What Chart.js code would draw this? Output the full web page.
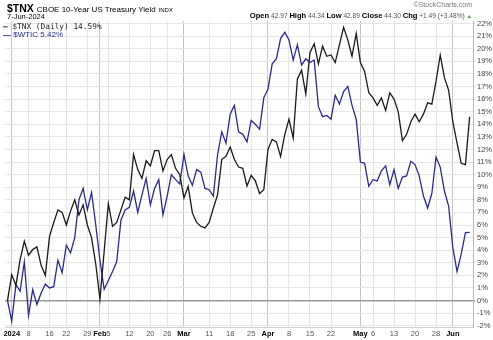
<!DOCTYPE html>
<html>
<head>
<meta charset="utf-8">
<script src="https://cdn.jsdelivr.net/npm/chart.js@4.4.1/dist/chart.umd.min.js"></script>
<style>
    body { margin: 0; background: #fff; }
    #wrap { position: relative; width: 493px; height: 340px; font-family: "Liberation Sans", Arial, sans-serif; }
    #wrap canvas { position: absolute; left: 0; top: 0; }
    .txt { position: absolute; white-space: nowrap; line-height: 1; }
    .lbl { color: #000; font-weight: bold; font-size: 7.6px; }
</style>
</head>
<body>

<div id="wrap">
    <canvas id="perfChart" width="493" height="340"></canvas>

    <div class="txt" style="left:7px;top:3px;font-size:10.5px;">
        <b>$TNX</b> <span style="font-size:8px;">CBOE 10-Year US Treasury Yield</span> <span style="font-size:6px;">INDX</span>
    </div>
    <div class="txt" style="left:7px;top:13px;font-size:7.5px;">7-Jun-2024</div>

    <div class="txt" style="right:21px;top:1px;font-size:7px;color:#777;">&copy;StockCharts.com</div>
    <div class="txt" style="right:21px;top:12px;font-size:6.6px;color:#555;">
        <span class="lbl">Open</span> 42.97 <span class="lbl">High</span> 44.34 <span class="lbl">Low</span> 42.89
        <span class="lbl">Close</span> 44.30 <span class="lbl">Chg</span> +1.49 (+3.48%) <span style="color:#3a3;font-size:5.5px;">&#9650;</span>
    </div>

    <div class="txt" style="left:3px;top:23px;font-family:'DejaVu Sans Mono',monospace;font-size:7.8px;color:#222;">
        <b>&mdash;</b> $TNX (Daily) 14.59%
    </div>
    <div class="txt" style="left:3px;top:31px;font-size:8px;color:#2a2a8c;">
        <b>&mdash;</b> $WTIC 5.42%
    </div>
</div>

<script>
// ===============================
// DATA  (% change since 29-Dec-2023, one value per trading day)
// ===============================

const tnxPct = [
    0, 2.06, 1.2, 3.25, 4.7, 3.6, 4.05, 4.26, 2.8, 2.0,
    5.1, 6.2, 7.2, 7.0, 6.0, 7.1, 8.0, 6.8, 7.6, 6.0,
    5.0, 2.9, 0.1, 3.9, 7.7, 5.9, 6.2, 7.2, 8.2, 8.0,
    11.6, 10.4, 9.7, 11.1, 10.7, 11.9, 11.9, 10.3, 11.2, 11.6,
    10.5, 10.0, 8.15, 9.07, 6.96, 6.2, 5.9, 5.77, 6.2, 7.35,
    8.4, 11.2, 11.45, 12.2, 11.2, 10.6, 10.5, 9.1, 9.95, 9.5,
    8.5, 8.8, 12.0, 12.8, 12.6, 11.45, 13.2, 14.4, 12.9, 17.6,
    18.3, 16.4, 19.7, 20.4, 18.8, 20.2, 19.4, 19.5, 18.9, 20.3,
    21.7, 20.7, 19.4, 21.2, 18.9, 18.2, 16.5, 16.1, 15.5, 16.1,
    15.1, 16.5, 16.0, 15.0, 12.7, 13.2, 14.2, 14.8, 14.2, 14.8,
    15.7, 15.6, 17.4, 19.5, 17.7, 16.7, 14.2, 12.5, 10.9, 10.8,
    14.59
];

const wticPct = [
    0, -1.64, 1.27, 0.74, 3.07, -1.19, 0.87, -0.32, 0.6, 1.3,
    1.0, 1.1, 3.2, 2.2, 4.4, 3.8, 5.0, 8.0, 8.9, 7.2,
    8.6, 6.0, 3.2, 0.9, 1.6, 2.3, 3.1, 6.4, 7.2, 7.4,
    8.7, 7.0, 8.4, 9.7, 7.6, 8.9, 9.6, 6.8, 8.3, 10.0,
    9.6, 9.26, 11.6, 9.9, 9.15, 10.4, 10.2, 8.9, 8.8, 8.3,
    11.6, 13.4, 12.5, 14.8, 15.5, 13.4, 13.2, 12.6, 14.3, 14.0,
    13.6, 16.1, 16.8, 18.8, 19.2, 20.8, 21.3, 20.7, 19.1, 20.3,
    18.7, 19.2, 18.9, 19.1, 15.4, 14.6, 14.7, 14.4, 16.3, 15.6,
    16.6, 17.0, 15.5, 14.4, 11.0, 10.9, 9.07, 9.6, 9.5, 10.3,
    10.7, 9.2, 10.4, 8.9, 9.8, 9.9, 11.06, 10.8, 9.9, 8.3,
    7.35, 8.5, 11.4, 10.6, 8.7, 7.5, 4.2, 2.3, 3.7, 5.4,
    5.42
];

// x ticks: trading-day index -> label (weeks + month starts)
const tickIdx    = [1, 5, 10, 14, 19, 22, 24, 29, 34, 38, 42, 48, 53, 58, 62, 67, 72, 77, 84, 87, 92, 97, 102, 106];
const tickLabels = ["2024", "8", "16", "22", "29", "Feb", "5", "12", "20", "26", "Mar", "11", "18", "25", "Apr", "8", "15", "22", "May", "6", "13", "20", "28", "Jun"];
const boldLabels = ["2024", "Feb", "Mar", "Apr", "May", "Jun"];

// ===============================
// HELPERS
// ===============================

function toPoints(arr){
    return arr.map((v, i) => ({ x: i, y: v }));
}

function labelAt(value){
    const k = tickIdx.indexOf(value);
    return k < 0 ? "" : tickLabels[k];
}

function isMonth(ctx){
    return !!(ctx && ctx.tick) && boldLabels.includes(labelAt(ctx.tick.value));
}

function isZero(ctx){
    return !!(ctx && ctx.tick) && ctx.tick.value === 0;
}

// ===============================
// CHART
// ===============================

new Chart(document.getElementById("perfChart"), {
    type: "line",
    data: {
        datasets: [
            {
                label: "$TNX",
                data: toPoints(tnxPct),
                borderColor: "#1a1a1a",
                borderWidth: 1.3,
                pointRadius: 0,
                tension: 0
            },
            {
                label: "$WTIC",
                data: toPoints(wticPct),
                borderColor: "#2a2a8c",
                borderWidth: 1.3,
                pointRadius: 0,
                tension: 0
            }
        ]
    },
    options: {
        responsive: false,
        animation: false,
        layout: { padding: { top: 21, left: 5, right: 0, bottom: 0 } },
        plugins: {
            legend: { display: false },
            tooltip: { enabled: false }
        },
        scales: {
            x: {
                type: "linear",
                min: -0.6,
                max: 110.8,
                afterBuildTicks: scale => {
                    scale.ticks = tickIdx.map(v => ({ value: v }));
                },
                afterFit: scale => { scale.height = 13; },
                ticks: {
                    autoSkip: false,
                    maxRotation: 0,
                    padding: 2,
                    callback: v => labelAt(v),
                    color: ctx => isMonth(ctx) ? "#000" : "#555",
                    font: ctx => ({
                        family: "Liberation Sans",
                        size: 7.5,
                        weight: isMonth(ctx) ? "bold" : "normal"
                    })
                },
                grid: {
                    drawTicks: false,
                    color: ctx => isMonth(ctx) ? "#c4c4c4" : "#e6e6e6"
                },
                border: { display: true, color: "#d0d0d0" }
            },
            y: {
                position: "right",
                min: -2.1,
                max: 22.2,
                afterFit: scale => { scale.width = 20; },
                ticks: {
                    stepSize: 1,
                    includeBounds: false,
                    padding: 2,
                    callback: v => v + "%",
                    color: "#444",
                    font: { family: "Liberation Sans", size: 7.5 }
                },
                grid: {
                    tickLength: 2,
                    color: ctx => isZero(ctx) ? "#999" : "#e6e6e6",
                    lineWidth: ctx => isZero(ctx) ? 1.5 : 1
                },
                border: { display: true, color: "#bbb" }
            }
        }
    }
});
</script>
</body>
</html>
